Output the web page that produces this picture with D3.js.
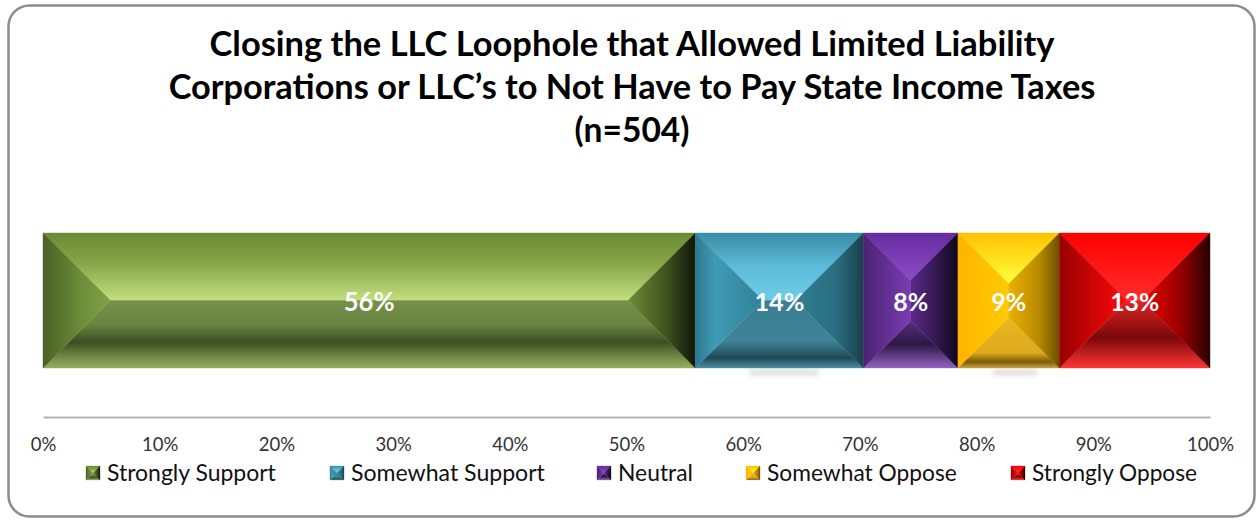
<!DOCTYPE html>
<html><head><meta charset="utf-8">
<script src="https://cdn.jsdelivr.net/npm/d3@7"></script>
<style>
html,body{margin:0;padding:0;background:#fff;}
svg{display:block;}
text{font-family:Lato,"Open Sans",sans-serif;}
</style></head>
<body>
<script>
// ---- data ----
const titleLines = ["Closing the LLC Loophole that Allowed Limited Liability",
  "Corporations or LLC\u2019s to Not Have to Pay State Income Taxes", "(n=504)"];
const categories = ["Strongly Support","Somewhat Support","Neutral","Somewhat Oppose","Strongly Oppose"];
const values = [55.9, 14.4, 8.1, 8.7, 12.9];
const valueLabels = ["56%","14%","8%","9%","13%"];
const tickValues = [0,10,20,30,40,50,60,70,80,90,100];
const tickLabels = ["0%","10%","20%","30%","40%","50%","60%","70%","80%","90%","100%"];

// face gradient palettes per series
const palettes = [
  {top:[[0,"#6b8a35"],[0.45,"#86a648"],[1,"#c3df80"]],
   bottom:[[0,"#738f49"],[0.35,"#6a8540"],[0.62,"#3c4e22"],[0.82,"#6c8843"],[1,"#94af5d"]],
   left:[[0,"#4a6126"],[0.6,"#6e8f3a"],[1,"#80a246"]],
   right:[[0,"#6f8e36"],[0.6,"#3c4e1c"],[1,"#10160a"]]},
  {top:[[0,"#3a8ba4"],[0.5,"#5dbcd9"],[1,"#6ecde8"]],
   bottom:[[0,"#3a7e92"],[0.6,"#3e8397"],[0.85,"#1f4955"],[1,"#4b8fa2"]],
   left:[[0,"#2c7a90"],[0.3,"#3f9bb5"],[1,"#2f8096"]],
   right:[[0,"#2f7e94"],[0.6,"#296d80"],[1,"#1b3f4b"]]},
  {top:[[0,"#672ca0"],[1,"#8d4ac6"]],
   bottom:[[0,"#57307e"],[0.5,"#2d1744"],[1,"#9262c2"]],
   left:[[0,"#4a2274"],[1,"#7b3db2"]],
   right:[[0,"#5b2b8c"],[0.6,"#2e1648"],[1,"#12081f"]]},
  {top:[[0,"#ffc200"],[1,"#ffff3c"]],
   bottom:[[0,"#ebb722"],[0.7,"#dfa91e"],[0.88,"#7a5a08"],[1,"#c9a242"]],
   left:[[0,"#ffb400"],[1,"#ffca00"]],
   right:[[0,"#eab000"],[0.6,"#b88a00"],[1,"#6a4e00"]]},
  {top:[[0,"#ff0000"],[1,"#ff2c2c"]],
   bottom:[[0,"#e02626"],[0.55,"#7a0808"],[1,"#ff3636"]],
   left:[[0,"#980000"],[1,"#ff0a0a"]],
   right:[[0,"#f00000"],[0.6,"#900000"],[1,"#280000"]]}
];

const W = 1257, H = 520;
const svg = d3.select("body").append("svg").attr("width", W).attr("height", H);
const defs = svg.append("defs");

// gradients
palettes.forEach((p, i) => {
  Object.entries(p).forEach(([face, stops]) => {
    const vertical = face === "top" || face === "bottom";
    const g = defs.append("linearGradient").attr("id", `g${i}-${face}`)
      .attr("x1", 0).attr("y1", 0)
      .attr("x2", vertical ? 0 : 1).attr("y2", vertical ? 1 : 0);
    g.selectAll("stop").data(stops).join("stop")
      .attr("offset", d => d[0]).attr("stop-color", d => d[1]);
  });
});
defs.append("filter").attr("id","blur").attr("x","-50%").attr("y","-200%").attr("width","200%").attr("height","500%")
  .append("feGaussianBlur").attr("stdDeviation", 2.5);

// border
svg.append("rect").attr("x", 8.5).attr("y", 5.5).attr("width", 1246).attr("height", 511)
  .attr("rx", 21).attr("fill", "#fff").attr("stroke", "#8c8c8c").attr("stroke-width", 2.5);

function fit(sel, target) {
  let out = null;
  sel.each(function() {
    const t = d3.select(this);
    const fs = parseFloat(t.attr("font-size"));
    const w = this.getComputedTextLength();
    if (w > 0) { out = fs * target / w; t.attr("font-size", out); }
  });
  return out;
}

// title
const titleWidths = [845, 927, 115];
const titleY = [56, 99, 142];
titleLines.forEach((line, i) => {
  const t = svg.append("text").attr("x", 632).attr("y", titleY[i])
    .attr("text-anchor", "middle").attr("font-weight", 700).attr("font-size", 30)
    .attr("fill", "#000").text(line);
  fit(t, titleWidths[i]);
});

// scales
const x = d3.scaleLinear().domain([0, 100]).range([43, 1210]);
const y = d3.scaleBand().domain(["n=504"]).range([233, 368]).padding(0);

const cum = [];
values.reduce((acc, v, i) => { cum.push([acc, acc + v]); return acc + v; }, 0);

function faces(x0, x1, y0, y1) {
  const b = Math.min(x1 - x0, y1 - y0) / 2;
  return {
    top: [[x0,y0],[x1,y0],[x1-b,y0+b],[x0+b,y0+b]],
    bottom: [[x0,y1],[x1,y1],[x1-b,y1-b],[x0+b,y1-b]],
    left: [[x0,y0],[x0+b,y0+b],[x0+b,y1-b],[x0,y1]],
    right: [[x1,y0],[x1-b,y0+b],[x1-b,y1-b],[x1,y1]]
  };
}
const faceOrder = ["top","bottom","left","right"];

// shadows under some segments
svg.append("rect").attr("x", x(60.5)).attr("y", 370).attr("width", x(66.5)-x(60.5)).attr("height", 5)
  .attr("fill", "#cfcfcf").attr("filter", "url(#blur)").attr("opacity", 0.8);
svg.append("rect").attr("x", x(81.4)).attr("y", 370).attr("width", x(85.2)-x(81.4)).attr("height", 5)
  .attr("fill", "#cfcfcf").attr("filter", "url(#blur)").attr("opacity", 0.8);

const bars = svg.append("g");
const labelW = [51, 50, 35, 35, 49];
cum.forEach(([a, b], i) => {
  const f = faces(x(a), x(b), y("n=504"), y("n=504") + y.bandwidth());
  const g = bars.append("g");
  faceOrder.forEach(k => {
    g.append("polygon").attr("points", f[k].map(p => p.join(",")).join(" "))
      .attr("fill", `url(#g${i}-${k})`).attr("stroke", `url(#g${i}-${k})`).attr("stroke-width", 0.4);
  });
  const t = g.append("text").attr("x", (x(a) + x(b)) / 2).attr("y", 311)
    .attr("text-anchor", "middle").attr("font-weight", 700).attr("font-size", 26)
    .attr("fill", "#fff").text(valueLabels[i]);
  fit(t, labelW[i]);
});

// axis
const axis = d3.axisBottom(x).tickValues(tickValues).tickSize(0)
  .tickFormat((d, i) => tickLabels[i]);
const ax = svg.append("g").attr("transform", "translate(0,417)").call(axis);
ax.select(".domain").attr("stroke", "#b3b3b3").attr("stroke-width", 2);
ax.selectAll("text").attr("y", 34).attr("dy", 0).attr("font-size", 18.5)
  .attr("fill", "#333").style("font-family", "Lato, 'Open Sans', sans-serif");

// legend
const legendIconX = [86, 330, 597, 746, 1011];
const legendTextW = [169, 194, 75, 190, 165];
const lg = svg.append("g");
categories.forEach((c, i) => {
  const ix = legendIconX[i], iy = 466, s = 14;
  const f = faces(ix, ix + s, iy, iy + s);
  faceOrder.forEach(k => {
    lg.append("polygon").attr("points", f[k].map(p => p.join(",")).join(" "))
      .attr("fill", `url(#g${i}-${k})`).attr("stroke", `url(#g${i}-${k})`).attr("stroke-width", 0.3);
  });
  const t = lg.append("text").attr("x", ix + 21).attr("y", 481).attr("font-size", 21)
    .attr("fill", "#111").text(c);
  fit(t, legendTextW[i]);
});
</script>
</body></html>
